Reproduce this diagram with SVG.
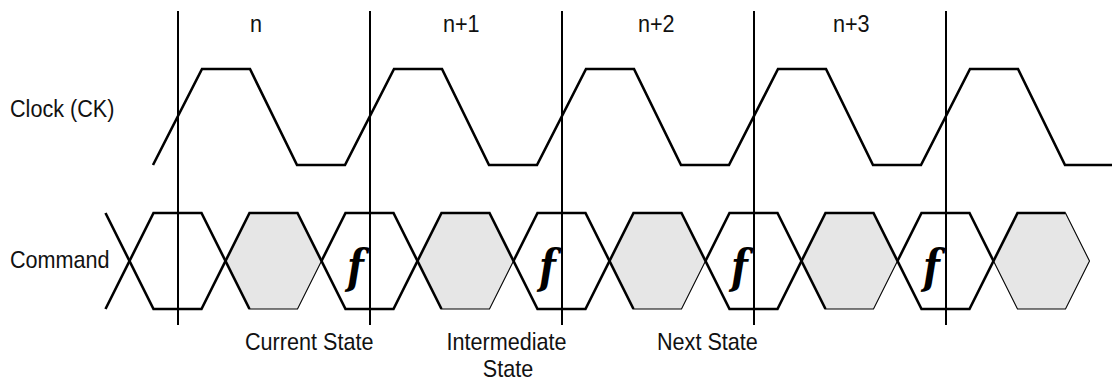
<svg xmlns="http://www.w3.org/2000/svg" width="1113" height="381" viewBox="0 0 1113 381">
<style>
.lbl{font-family:"Liberation Sans",Arial,sans-serif;font-size:24px;fill:#111}
.fn{font-family:"DejaVu Serif",serif;font-size:46px;font-weight:bold;font-style:italic;fill:#000}
.thick{fill:none;stroke:#000;stroke-width:2.6;stroke-linejoin:miter;stroke-linecap:butt}
.vline{stroke:#000;stroke-width:2}
.grey{fill:#e6e6e6;stroke:#000;stroke-width:1.1}
</style>
<rect width="1113" height="381" fill="#fff"/>
<g id="labels">
<text class="lbl" transform="translate(10,117) scale(0.9,1)">Clock (CK)</text>
<text class="lbl" transform="translate(10,268) scale(0.9,1)">Command</text>
<text class="lbl" transform="translate(250,32) scale(0.9,1)">n</text>
<text class="lbl" transform="translate(443,32) scale(0.9,1)">n+1</text>
<text class="lbl" transform="translate(638,32) scale(0.9,1)">n+2</text>
<text class="lbl" transform="translate(833,32) scale(0.9,1)">n+3</text>
<text class="lbl" transform="translate(245,350) scale(0.9,1)">Current State</text>
<text class="lbl" text-anchor="middle" transform="translate(506.5,350) scale(0.9,1)">Intermediate</text>
<text class="lbl" text-anchor="middle" transform="translate(508,377) scale(0.9,1)">State</text>
<text class="lbl" transform="translate(657,350) scale(0.9,1)">Next State</text>
</g>
<g id="clock">
<polyline class="thick" points="153,165 202,69 250,69 297,165 345,165 394,69 442,69 489,165 537,165 586,69 634,69 681,165 729,165 778,69 826,69 873,165 921,165 970,69 1018,69 1065,165 1112,165"/>
</g>
<g id="command">
<g id="grey-states">
<polygon class="grey" points="225.5,261 249.5,213 297.5,213 321.5,261 297.5,309 249.5,309"/>
<polygon class="grey" points="417.5,261 441.5,213 489.5,213 513.5,261 489.5,309 441.5,309"/>
<polygon class="grey" points="609.5,261 633.5,213 681.5,213 705.5,261 681.5,309 633.5,309"/>
<polygon class="grey" points="801.5,261 825.5,213 873.5,213 897.5,261 873.5,309 825.5,309"/>
<polygon class="grey" points="993.5,261 1017.5,213 1065.5,213 1089.5,261 1065.5,309 1017.5,309"/>
</g>
<polyline class="thick" points="105.5,213 153.5,309 201.5,309 249.5,213 297.5,213 345.5,309 393.5,309 441.5,213 489.5,213 537.5,309 585.5,309 633.5,213 681.5,213 729.5,309 777.5,309 825.5,213 873.5,213 921.5,309 969.5,309 1017.5,213 1065.5,213"/>
<polyline class="thick" points="105.5,309 153.5,213 201.5,213 249.5,309"/>
<polyline class="thick" points="321.5,261 345.5,213 393.5,213 441.5,309"/>
<polyline class="thick" points="513.5,261 537.5,213 585.5,213 633.5,309"/>
<polyline class="thick" points="705.5,261 729.5,213 777.5,213 825.5,309"/>
<polyline class="thick" points="897.5,261 921.5,213 969.5,213 993.5,261"/>
<text class="fn" transform="translate(347,283) scale(0.85,1)">f</text>
<text class="fn" transform="translate(539,283) scale(0.85,1)">f</text>
<text class="fn" transform="translate(731,283) scale(0.85,1)">f</text>
<text class="fn" transform="translate(923,283) scale(0.85,1)">f</text>
</g>
<g id="connectors">
<line class="vline" x1="178" y1="11" x2="178" y2="325"/>
<line class="vline" x1="370" y1="11" x2="370" y2="325"/>
<line class="vline" x1="562" y1="11" x2="562" y2="325"/>
<line class="vline" x1="754" y1="11" x2="754" y2="325"/>
<line class="vline" x1="946" y1="11" x2="946" y2="325"/>
</g>
</svg>
